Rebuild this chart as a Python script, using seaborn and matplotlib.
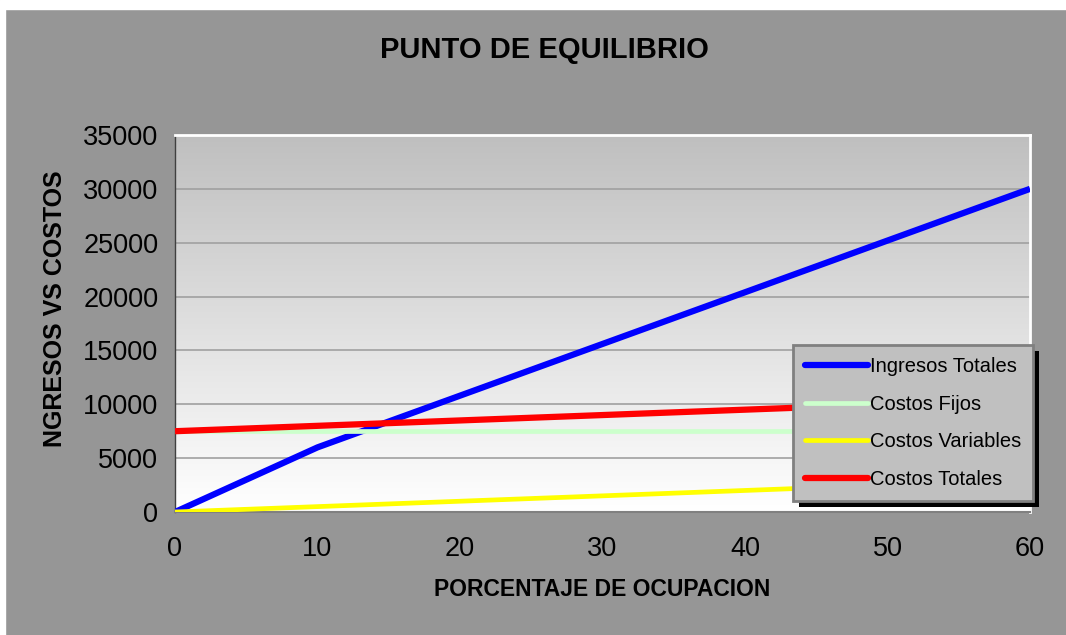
import numpy as np
import pandas as pd
import matplotlib
matplotlib.use('Agg')
import matplotlib.pyplot as plt
from matplotlib.patches import Rectangle
import seaborn as sns

# Datos
ocupacion = [0, 10, 20, 30, 40, 50, 60]
ingresos_totales = [0, 6000, 10800, 15600, 20400, 25200, 30000]
costos_fijos = [7500, 7500, 7500, 7500, 7500, 7500, 7500]
costos_variables = [0, 500, 1000, 1500, 2000, 2500, 3000]
costos_totales = [7500, 8000, 8500, 9000, 9500, 10000, 10500]

series = ['Ingresos Totales', 'Costos Fijos', 'Costos Variables', 'Costos Totales']
colores = ['#0000ff', '#ccffcc', '#ffff00', '#ff0000']
grosores = [4.5, 3.4, 3.4, 4.5]

df = pd.DataFrame({
    'ocupacion': ocupacion * 4,
    'valor': ingresos_totales + costos_fijos + costos_variables + costos_totales,
    'serie': np.repeat(series, len(ocupacion)),
})

sns.set_style('white')
plt.rcParams['font.family'] = ['Liberation Sans', 'DejaVu Sans']
plt.rcParams['text.color'] = 'black'
plt.rcParams['axes.labelcolor'] = 'black'

W, H = 1066, 635
fig = plt.figure(figsize=(W / 100, H / 100), dpi=100, facecolor='#969696')
# borde blanco arriba e izquierda
fig.patches.append(Rectangle((0, 1 - 9 / H), 1, 9 / H, transform=fig.transFigure,
                             color='white', zorder=0))
fig.patches.append(Rectangle((0, 0), 5 / W, 1, transform=fig.transFigure,
                             color='white', zorder=0))

ax = fig.add_axes([175 / W, 1 - 512 / H, (1030 - 175) / W, (512 - 135) / H])

# fondo degradado gris -> blanco
grad = np.linspace(0, 1, 256).reshape(-1, 1)
ax.imshow(grad, extent=[0, 1, 0, 1], transform=ax.transAxes, aspect='auto',
          cmap=matplotlib.colors.LinearSegmentedColormap.from_list(
              'g', ['#ffffff', '#bfbfbf']),
          origin='lower', zorder=0)

for s, c, lw in zip(series, colores, grosores):
    sns.lineplot(data=df[df['serie'] == s], x='ocupacion', y='valor', color=c,
                 linewidth=lw, label=s, ax=ax, zorder=3, solid_capstyle='butt')

ax.set_xlim(0, 60)
ax.set_ylim(0, 35000)
ax.set_xticks(range(0, 61, 10))
ax.set_xticks(range(0, 61, 5), minor=True)
ax.set_yticks(range(0, 35001, 5000))
ax.set_yticks(range(0, 35001, 1000), minor=True)
ax.yaxis.grid(True, color='#a0a0a0', linewidth=1.2, zorder=1)
ax.set_axisbelow(True)

ax.tick_params(axis='both', which='both', direction='out', color='black',
               width=1, labelsize=19.5, labelcolor='black')
ax.tick_params(axis='both', which='major', length=5)
ax.tick_params(axis='both', which='minor', length=4)
ax.tick_params(axis='y', which='major', pad=7)
ax.tick_params(axis='x', which='major', pad=12)

for side in ['top', 'right']:
    ax.spines[side].set_color('white')
    ax.spines[side].set_linewidth(2)
ax.spines['left'].set_color('#404040')
ax.spines['bottom'].set_color('#808080')
ax.spines['left'].set_linewidth(1)
ax.spines['bottom'].set_linewidth(1.5)

ax.set_xlabel('PORCENTAJE DE OCUPACION', fontsize=16.5, fontweight='bold')
ax.set_ylabel('NGRESOS VS COSTOS', fontsize=18, fontweight='bold')
ax.xaxis.set_label_coords(0.5, -(590 - 512) / (512 - 135), transform=ax.transAxes)
ax.yaxis.set_label_coords(-(175 - 55) / (1030 - 175), (512 - 309) / (512 - 135),
                          transform=ax.transAxes)
ax.xaxis.label.set_va('center')
ax.yaxis.label.set_va('center')
fig.text(544 / W, 1 - 50 / H, 'PUNTO DE EQUILIBRIO', fontsize=21,
         fontweight='bold', ha='center', va='center')

leg = ax.legend(loc='upper left', bbox_to_anchor=(793 / W, 1 - 345 / H),
                bbox_transform=fig.transFigure, borderaxespad=0,
                fontsize=14.5, frameon=True, fancybox=False,
                facecolor='#c0c0c0', edgecolor='#808080', framealpha=1,
                handlelength=3.1, handletextpad=0.1, labelspacing=0.92,
                borderpad=0.6)
leg.get_frame().set_linewidth(2)
for h in leg.legend_handles:
    h.set_solid_capstyle('round')
leg.set_zorder(10)

# sombra negra del recuadro de la leyenda
fig.canvas.draw()
bb = leg.get_window_extent()
sombra = Rectangle(((bb.x0 + 6) / W, (bb.y0 - 6) / H), bb.width / W, bb.height / H,
                   transform=fig.transFigure, facecolor='black', edgecolor='none',
                   clip_on=False, zorder=9)
ax.add_patch(sombra)

fig.savefig('out.png', dpi=100, facecolor=fig.get_facecolor())
